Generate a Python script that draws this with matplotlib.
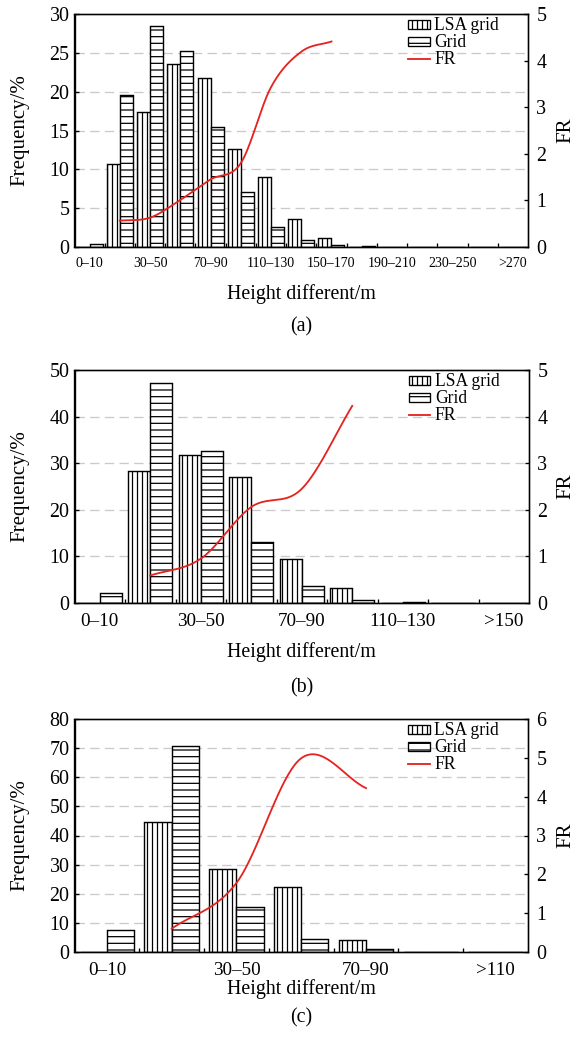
import numpy as np
import matplotlib
matplotlib.use("Agg")
import matplotlib.pyplot as plt
from matplotlib.patches import Patch
from matplotlib.lines import Line2D

plt.rcParams['font.family'] = ['Liberation Serif', 'DejaVu Serif']
plt.rcParams['hatch.linewidth'] = 0.75
plt.rcParams['hatch.color'] = 'black'

nan = np.nan

# ---------------- data ----------------
# panel (a)
a_labels = ['0–10', '', '30–50', '', '70–90', '', '110–130', '', '150–170', '',
            '190–210', '', '230–250', '', '>270']
a_lsa = [0, 10.7, 17.4, 23.5, 21.7, 12.6, 9.0, 3.6, 1.2, 0, 0, 0, 0, 0, 0]
a_grid = [0.35, 19.6, 28.4, 25.3, 15.5, 7.1, 2.6, 0.9, 0.25, 0.1, 0, 0, 0, 0, 0]
a_fr = [nan, 0.565, 0.63, 1.01, 1.45, 1.80, 3.43, 4.19, 4.41, nan, nan, nan, nan, nan, nan]

# panel (b)
b_labels = ['0–10', '', '30–50', '', '70–90', '', '110–130', '', '>150']
b_lsa = [0, 28.4, 31.7, 27.1, 9.5, 3.2, 0, 0, 0]
b_grid = [2.1, 47.3, 32.7, 13.1, 3.7, 0.7, 0.2, 0, 0]
b_fr = [nan, 0.59, 0.95, 2.06, 2.45, 4.23, nan, nan, nan]

# panel (c)
c_labels = ['0–10', '', '30–50', '', '70–90', '', '>110']
c_lsa = [0, 44.7, 28.4, 22.3, 4.0, 0, 0]
c_grid = [7.7, 70.8, 15.5, 4.5, 1.0, 0, 0]
c_fr = [nan, 0.60, 1.78, 4.99, 4.22, nan, nan]

series_names = ['LSA grid', 'Grid', 'FR']
x_title = 'Height different/m'
y_title = 'Frequency/%'
y2_title = 'FR'

# ---------------- helpers ----------------
W, H = 576, 1042
DPI = 120
fig = plt.figure(figsize=(W / DPI, H / DPI), dpi=DPI)
RED = '#e5231f'
VH = '||||'
HH = '---'


def smooth_curve(xs, ys, per=40):
    xs = np.asarray(xs, float)
    ys = np.asarray(ys, float)
    m = np.empty_like(ys)
    m[1:-1] = (ys[2:] - ys[:-2]) / (xs[2:] - xs[:-2])
    m[0] = (ys[1] - ys[0]) / (xs[1] - xs[0])
    m[-1] = (ys[-1] - ys[-2]) / (xs[-1] - xs[-2])
    ox, oy = [], []
    for i in range(len(xs) - 1):
        h = xs[i + 1] - xs[i]
        t = np.linspace(0, 1, per, endpoint=(i == len(xs) - 2))
        h00 = 2 * t**3 - 3 * t**2 + 1
        h10 = t**3 - 2 * t**2 + t
        h01 = -2 * t**3 + 3 * t**2
        h11 = t**3 - t**2
        oy.append(h00 * ys[i] + h10 * h * m[i] + h01 * ys[i + 1] + h11 * h * m[i + 1])
        ox.append(xs[i] + t * h)
    return np.concatenate(ox), np.concatenate(oy)


def px_rect(left, top, right, bottom):
    return [left / W, 1 - bottom / H, (right - left) / W, (bottom - top) / H]


def panel(box, labels, lsa, grid, fr, ymax, ystep, frmax, barw, xfs,
          tag, xlabel_y, tag_y):
    ax = fig.add_axes(px_rect(*box))
    n = len(labels)
    x = np.arange(n)
    ax.bar(x - barw / 2, lsa, width=barw, facecolor='white', edgecolor='black',
           hatch=VH, linewidth=0.85, zorder=2)
    ax.bar(x + barw / 2, grid, width=barw, facecolor='white', edgecolor='black',
           hatch=HH, linewidth=0.85, zorder=2)
    ax.set_xlim(-0.5, n - 0.5)
    ax.set_ylim(0, ymax)
    yt = np.arange(0, ymax + 0.1, ystep)
    ax.set_yticks(yt)
    for v in yt[1:-1]:
        ax.axhline(v, color='#cacaca', lw=0.8, ls=(0, (7, 4)), zorder=1)
    ax.set_xticks(x)
    ax.set_xticklabels(labels, fontsize=xfs)
    ax.set_xticks(np.arange(0.5, n - 0.5, 1), minor=True)
    ax.tick_params(axis='x', which='major', length=0, pad=6)
    ax.tick_params(axis='x', which='minor', direction='in', length=2.5, width=0.8)
    ax.tick_params(axis='y', direction='in', length=2.5, width=0.8,
                   labelsize=12, pad=3)
    for s in ax.spines.values():
        s.set_linewidth(0.8)

    ax2 = ax.twinx()
    ax2.set_ylim(0, frmax)
    ax2.set_yticks(np.arange(0, frmax + 0.1, 1))
    ax2.tick_params(axis='y', direction='in', length=2.5, width=0.8,
                    labelsize=12, pad=5)
    for s in ax2.spines.values():
        s.set_linewidth(0.8)
    fr = np.asarray(fr, float)
    ok = np.isfinite(fr)
    sx, sy = smooth_curve(x[ok], fr[ok])
    ax2.plot(sx, sy, color=RED, lw=1.1, zorder=3)

    handles = [Patch(facecolor='white', edgecolor='black', hatch=VH, lw=0.8),
               Patch(facecolor='white', edgecolor='black', hatch=HH, lw=0.8),
               Line2D([], [], color=RED, lw=1.1)]
    ax2.legend(handles, series_names, loc='upper left',
               bbox_to_anchor=(0.735, 0.985), frameon=False, borderpad=0,
               borderaxespad=0, handlelength=1.25, handleheight=0.45,
               handletextpad=0.25, labelspacing=0, fontsize=10.5)

    left, top, right, bottom = box
    yc = 1 - (top + bottom) / 2 / H
    fig.text(20 / W, yc, y_title, rotation=90, ha='center', va='center', fontsize=12.5)
    fig.text(566 / W, yc, y2_title, rotation=90, ha='center', va='center', fontsize=12.5)
    fig.text((left + right) / 2 / W, 1 - xlabel_y / H, x_title, ha='center',
             va='center', fontsize=12)
    fig.text((left + right) / 2 / W, 1 - tag_y / H, tag, ha='center',
             va='center', fontsize=12)
    return ax


panel((74.5, 14, 528, 247), a_labels, a_lsa, a_grid, a_fr, 30, 5, 5, 0.43, 8.3,
      '(a)', 294, 327)
panel((74.5, 370, 529, 603), b_labels, b_lsa, b_grid, b_fr, 50, 10, 5, 0.44, 11.5,
      '(b)', 652, 688)
panel((74.5, 719, 528, 952), c_labels, c_lsa, c_grid, c_fr, 80, 10, 6, 0.42, 11.5,
      '(c)', 989, 1018)

fig.savefig('out.png', dpi=DPI)
